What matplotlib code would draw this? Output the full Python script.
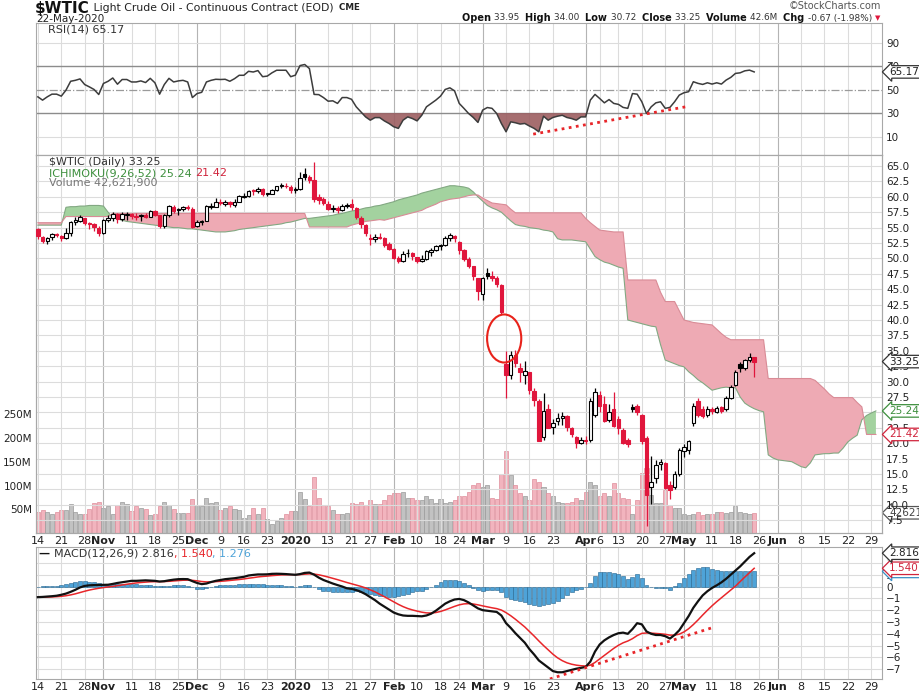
import numpy as np
import pandas as pd
import matplotlib
matplotlib.use("Agg")
import matplotlib.pyplot as plt
from matplotlib.patches import Ellipse

# daily bars, 14-Oct-2019 .. 22-May-2020
opens = [54.70, 53.50, 52.80, 53.40, 53.90, 53.60, 53.30, 54.10, 55.90, 56.10,
         56.50, 55.70, 55.60, 55.00, 54.20, 56.20, 56.50, 57.20, 56.40, 57.10,
         57.20, 56.80, 56.90, 57.10, 56.80, 57.70, 57.00, 55.30, 57.10, 58.40,
         57.80, 58.00, 58.40, 58.10, 55.30, 55.90, 56.10, 58.40, 58.40, 59.20,
         58.90, 59.20, 58.70, 59.20, 60.00, 60.20, 60.90, 60.90, 61.20, 60.50,
         60.50, 61.10, 61.70, 61.70, 61.60, 61.10, 61.20, 63.70, 63.20, 62.80,
         59.90, 59.60, 58.90, 58.10, 58.20, 57.80, 58.60, 58.90, 58.20, 56.60,
         55.50, 53.30, 53.20, 53.50, 53.30, 52.30, 51.50, 50.00, 49.60, 50.80,
         50.90, 50.20, 49.60, 49.90, 51.10, 51.40, 52.10, 52.10, 53.30, 53.70,
         52.60, 51.40, 49.90, 48.70, 46.80, 44.30, 47.60, 47.10, 46.80, 45.70,
         32.90, 31.00, 34.40, 32.20, 31.00, 31.50, 28.50, 26.90, 21.00, 25.50,
         22.60, 23.60, 24.10, 24.40, 22.40, 21.00, 20.10, 20.50, 20.60, 24.50,
         27.80, 26.40, 23.80, 25.60, 23.90, 22.20, 20.50, 25.90, 26.10, 24.60,
         20.80, 12.90, 14.40, 16.70, 16.80, 13.20, 12.90, 15.00, 18.70, 18.90,
         23.30, 26.80, 25.60, 24.60, 25.50, 25.10, 25.80, 25.50, 27.40, 29.50,
         32.80, 32.20, 33.50, 33.95]
highs = [54.95, 53.70, 53.45, 54.20, 54.20, 53.80, 54.90, 56.00, 56.70, 57.00,
         56.60, 55.90, 55.80, 55.30, 56.40, 57.00, 57.50, 57.30, 57.60, 57.50,
         57.40, 57.30, 57.20, 57.40, 57.90, 57.90, 57.10, 57.20, 58.70, 58.60,
         58.20, 58.50, 58.70, 58.30, 56.30, 56.30, 58.70, 59.00, 59.80, 59.60,
         59.50, 59.40, 59.60, 60.30, 60.60, 61.10, 61.20, 61.60, 61.40, 60.70,
         61.20, 61.80, 62.30, 62.30, 61.90, 61.60, 64.10, 64.70, 63.50, 65.65,
         60.50, 59.90, 59.30, 58.70, 58.50, 58.80, 59.00, 59.70, 58.30, 56.90,
         55.60, 53.90, 54.00, 54.10, 53.40, 52.70, 51.70, 50.40, 51.20, 51.50,
         51.00, 50.30, 50.60, 51.30, 51.70, 52.20, 52.40, 53.60, 54.20, 53.80,
         52.80, 51.60, 50.30, 48.80, 46.90, 47.00, 48.40, 47.90, 47.10, 45.90,
         34.90, 34.90, 35.10, 33.00, 33.40, 31.60, 29.00, 27.20, 28.10, 26.30,
         23.90, 24.90, 25.00, 24.60, 22.60, 21.20, 21.00, 21.20, 27.40, 29.00,
         28.40, 27.70, 26.40, 28.30, 24.40, 22.50, 20.80, 26.30, 26.40, 24.80,
         21.20, 17.90, 17.20, 17.50, 17.00, 13.80, 15.50, 19.20, 19.90, 20.60,
         26.50, 27.30, 26.00, 26.00, 25.80, 26.00, 26.10, 27.70, 29.40, 31.90,
         33.20, 33.60, 34.60, 34.00]
lows = [53.10, 52.45, 52.40, 52.95, 53.40, 52.80, 53.10, 53.60, 55.50, 55.90,
        55.40, 54.80, 54.50, 53.70, 53.90, 55.90, 56.00, 55.80, 56.10, 56.30,
        56.40, 56.30, 56.00, 56.50, 56.70, 56.90, 54.90, 55.00, 56.80, 57.40,
        57.10, 57.70, 57.90, 54.90, 55.10, 55.40, 56.00, 58.00, 58.30, 58.70,
        58.50, 58.30, 58.40, 59.10, 59.80, 60.00, 60.30, 60.60, 60.20, 60.20,
        60.40, 61.00, 61.40, 61.40, 60.60, 60.70, 61.10, 62.80, 62.30, 59.20,
        58.90, 58.70, 57.80, 57.60, 57.40, 57.70, 58.20, 57.90, 56.40, 54.90,
        53.70, 52.10, 52.70, 53.10, 51.80, 51.30, 49.90, 49.30, 49.40, 50.30,
        49.80, 49.30, 49.40, 49.70, 50.40, 51.20, 51.30, 52.00, 52.90, 52.70,
        50.70, 49.60, 48.40, 46.50, 43.30, 43.20, 46.60, 46.30, 45.40, 41.00,
        27.30, 30.50, 32.30, 30.00, 29.60, 28.00, 26.00, 20.30, 20.60, 22.40,
        21.50, 23.00, 22.90, 21.90, 21.00, 19.30, 19.80, 19.90, 20.20, 24.20,
        25.10, 23.40, 23.50, 22.60, 21.50, 19.90, 19.40, 25.00, 24.50, 19.90,
        6.50, 10.20, 13.60, 15.70, 12.50, 10.90, 12.50, 14.70, 17.80, 18.30,
        22.80, 24.30, 24.10, 24.30, 24.70, 24.90, 24.90, 25.20, 27.10, 29.30,
        31.50, 31.90, 33.20, 30.72]
closes = [53.59, 52.81, 53.36, 53.93, 53.78, 53.31, 54.16, 55.97, 56.23, 56.66,
          55.81, 55.54, 55.06, 54.18, 56.20, 56.54, 57.23, 56.35, 57.15, 57.24,
          56.86, 56.80, 57.12, 56.77, 57.72, 57.05, 55.21, 57.11, 58.58, 57.77,
          58.01, 58.41, 58.11, 55.17, 55.96, 56.10, 58.43, 58.43, 59.20, 59.02,
          59.24, 58.76, 59.18, 60.07, 60.21, 60.94, 60.93, 61.22, 60.44, 60.52,
          61.11, 61.68, 61.72, 61.68, 61.06, 61.18, 63.05, 63.27, 62.70, 59.61,
          59.56, 59.04, 58.08, 58.23, 57.81, 58.52, 58.54, 58.34, 56.74, 55.59,
          54.19, 53.14, 53.48, 53.33, 52.14, 51.56, 50.11, 49.61, 50.75, 50.95,
          50.32, 49.57, 49.94, 51.17, 51.42, 52.05, 52.05, 53.29, 53.78, 53.38,
          51.43, 49.90, 48.73, 47.09, 44.76, 46.75, 47.18, 46.78, 45.90, 41.28,
          31.13, 34.36, 32.98, 31.50, 31.73, 28.70, 26.95, 20.37, 25.22, 22.43,
          23.36, 24.01, 24.49, 22.60, 21.51, 20.09, 20.48, 20.31, 26.80, 28.34,
          26.08, 23.63, 25.09, 22.76, 22.41, 20.11, 19.87, 25.53, 25.03, 20.43,
          11.57, 13.78, 16.50, 16.94, 12.78, 12.34, 15.06, 18.84, 19.40, 20.39,
          26.00, 24.60, 24.40, 25.60, 25.20, 25.70, 25.30, 27.40, 29.10, 31.60,
          32.20, 33.49, 33.92, 33.25]
# volume in millions
volume_m = [45, 48, 44, 41, 45, 48, 48, 61, 45, 41,
            41, 51, 63, 65, 53, 56, 41, 59, 65, 61,
            47, 56, 53, 50, 37, 41, 56, 65, 58, 50,
            42, 42, 42, 71, 60, 56, 73, 63, 65, 49,
            52, 57, 51, 49, 32, 39, 53, 41, 53, 29,
            20, 25, 32, 41, 47, 47, 87, 71, 56, 119,
            73, 58, 56, 49, 41, 41, 43, 63, 61, 66,
            58, 70, 61, 61, 70, 80, 85, 85, 87, 73,
            73, 70, 70, 78, 71, 64, 71, 64, 66, 70,
            77, 77, 87, 101, 106, 98, 101, 73, 71, 124,
            173, 122, 101, 85, 77, 70, 113, 108, 98, 84,
            77, 66, 63, 63, 66, 73, 70, 87, 108, 101,
            77, 84, 77, 106, 84, 73, 71, 41, 70, 127,
            136, 80, 63, 63, 91, 59, 52, 52, 41, 38,
            41, 45, 38, 41, 41, 44, 45, 43, 45, 56,
            45, 43, 40, 42.62]
rsi14 = [43.9, 41.1, 43.9, 46.2, 46.2, 44.5, 49.6, 57.2, 58.0, 59.2,
         54.4, 52.4, 50.2, 45.9, 55.3, 57.2, 60.0, 54.7, 58.7, 58.7,
         56.6, 56.6, 57.5, 56.1, 59.7, 55.9, 46.2, 54.4, 59.7, 56.6,
         57.5, 58.0, 56.6, 43.3, 46.7, 47.8, 56.6, 58.0, 58.9, 58.7,
         58.9, 57.2, 59.4, 62.3, 62.3, 65.7, 65.1, 66.3, 61.1, 61.6,
         64.4, 66.6, 66.6, 66.6, 61.1, 62.4, 70.6, 71.5, 68.0, 46.0,
         45.8, 43.3, 40.2, 40.5, 38.3, 43.3, 43.3, 41.8, 35.4, 31.1,
         26.8, 24.0, 26.2, 26.2, 23.4, 21.2, 18.4, 17.0, 24.0, 26.8,
         25.4, 23.4, 28.2, 35.4, 38.3, 41.1, 44.5, 50.2, 51.6, 49.0,
         38.3, 34.1, 29.7, 26.3, 22.1, 32.6, 34.8, 34.1, 29.7, 21.2,
         14.1, 22.6, 21.8, 20.7, 21.2, 19.0, 17.0, 14.1, 27.4, 24.0,
         26.3, 27.4, 28.2, 26.3, 25.4, 24.0, 26.8, 26.8, 41.1, 46.0,
         42.5, 38.8, 41.6, 38.3, 37.5, 34.9, 34.1, 46.7, 46.2, 39.7,
         29.7, 35.4, 38.8, 39.7, 34.1, 34.9, 39.7, 45.4, 47.4, 48.3,
         56.8, 55.4, 54.5, 55.9, 54.8, 55.9, 54.8, 58.2, 60.5, 63.9,
         64.4, 66.1, 66.7, 65.17]
macd_line = [-0.90, -0.88, -0.85, -0.82, -0.78, -0.70, -0.60, -0.45, -0.28, -0.08,
             0.05, 0.10, 0.12, 0.13, 0.14, 0.15, 0.22, 0.30, 0.36, 0.42,
             0.48, 0.48, 0.50, 0.52, 0.50, 0.48, 0.42, 0.45, 0.52, 0.58,
             0.62, 0.63, 0.62, 0.45, 0.30, 0.20, 0.25, 0.38, 0.48, 0.55,
             0.62, 0.66, 0.70, 0.76, 0.82, 0.93, 0.98, 1.02, 1.02, 1.03,
             1.07, 1.08, 1.07, 1.05, 1.02, 0.99, 1.05, 1.15, 1.18, 1.00,
             0.75, 0.55, 0.40, 0.25, 0.12, 0.00, -0.15, -0.20, -0.30, -0.45,
             -0.65, -0.90, -1.15, -1.45, -1.70, -1.95, -2.20, -2.35, -2.45, -2.48,
             -2.48, -2.50, -2.52, -2.45, -2.30, -2.05, -1.75, -1.45, -1.25, -1.10,
             -1.05, -1.15, -1.35, -1.60, -1.85, -2.00, -2.05, -2.10, -2.15, -2.45,
             -3.10, -3.50, -3.95, -4.35, -4.75, -5.30, -5.75, -6.25, -6.55, -6.85,
             -7.15, -7.25, -7.25, -7.15, -7.05, -6.95, -6.88, -6.80, -6.35, -5.50,
             -4.90, -4.55, -4.30, -4.10, -3.95, -3.90, -4.00, -3.60, -3.10, -3.20,
             -3.80, -4.00, -4.10, -4.10, -4.20, -4.40, -4.10, -3.70, -3.10, -2.50,
             -1.80, -1.25, -0.75, -0.40, -0.12, 0.10, 0.35, 0.65, 1.00, 1.35,
             1.70, 2.10, 2.50, 2.816]
signal_line = [-0.90, -0.90, -0.89, -0.88, -0.86, -0.83, -0.78, -0.71, -0.62, -0.51,
               -0.40, -0.30, -0.22, -0.15, -0.09, -0.04, 0.01, 0.07, 0.13, 0.19,
               0.25, 0.30, 0.34, 0.37, 0.40, 0.41, 0.41, 0.42, 0.44, 0.47,
               0.50, 0.53, 0.54, 0.52, 0.48, 0.42, 0.39, 0.39, 0.41, 0.44,
               0.47, 0.51, 0.55, 0.59, 0.64, 0.70, 0.75, 0.81, 0.85, 0.88,
               0.92, 0.95, 0.98, 0.99, 1.00, 1.00, 1.01, 1.04, 1.07, 1.05,
               0.99, 0.90, 0.80, 0.69, 0.58, 0.46, 0.34, 0.23, 0.12, 0.01,
               -0.12, -0.28, -0.45, -0.65, -0.86, -1.08, -1.30, -1.51, -1.70, -1.86,
               -1.98, -2.08, -2.17, -2.23, -2.24, -2.20, -2.11, -1.98, -1.83, -1.68,
               -1.55, -1.47, -1.45, -1.48, -1.55, -1.64, -1.72, -1.80, -1.87, -1.99,
               -2.21, -2.47, -2.77, -3.09, -3.42, -3.80, -4.19, -4.60, -4.99, -5.36,
               -5.72, -6.03, -6.27, -6.45, -6.57, -6.65, -6.70, -6.72, -6.65, -6.42,
               -6.12, -5.81, -5.51, -5.23, -4.97, -4.76, -4.61, -4.41, -4.15, -3.96,
               -3.93, -3.94, -3.97, -4.00, -4.04, -4.11, -4.11, -4.03, -3.84, -3.57,
               -3.22, -2.83, -2.41, -2.01, -1.63, -1.28, -0.95, -0.63, -0.30, 0.03,
               0.42, 0.80, 1.17, 1.540]
# ichimoku cloud, shifted 26 sessions ahead (180 sessions)
span_a = [55.4, 55.4, 55.4, 55.4, 55.4, 55.4, 58.3, 58.4, 58.4, 58.5,
          58.5, 58.6, 58.6, 58.6, 58.5, 57.5, 56.6, 56.4, 56.2, 56.0,
          55.9, 55.8, 55.7, 55.6, 55.5, 55.4, 55.3, 55.2, 55.1, 55.0,
          55.0, 54.9, 54.8, 54.8, 54.7, 54.6, 54.5, 54.4, 54.3, 54.3,
          54.3, 54.4, 54.5, 54.7, 54.8, 54.9, 55.0, 55.1, 55.2, 55.3,
          55.4, 55.5, 55.6, 55.8, 55.9, 56.1, 56.3, 56.5, 56.5, 56.6,
          56.7, 56.8, 56.9, 57.0, 57.2, 57.3, 57.5, 57.7, 57.8, 58.0,
          58.2, 58.3, 58.5, 58.6, 58.8, 59.0, 59.2, 59.5, 59.7, 59.9,
          60.1, 60.3, 60.6, 60.8, 61.0, 61.2, 61.4, 61.6, 61.8, 61.8,
          61.7, 61.6, 61.4, 60.8, 60.0, 59.3, 58.6, 58.2, 57.9, 57.5,
          56.8, 56.1, 55.5, 55.3, 55.2, 55.0, 54.9, 54.8, 54.6, 54.5,
          54.3, 53.2, 53.0, 53.0, 53.0, 52.9, 52.8, 52.7, 51.5, 50.3,
          49.8, 49.4, 49.2, 48.9, 48.6, 48.4, 40.0, 39.8, 39.6, 39.4,
          39.2, 39.0, 38.9, 36.0, 33.5, 33.2, 32.9, 32.6, 32.4, 31.6,
          31.0, 30.3, 29.8, 29.2, 28.6, 28.8, 29.0, 29.1, 29.0, 29.0,
          27.5, 26.5, 26.0, 25.6, 25.3, 25.1, 18.1, 17.6, 17.3, 17.2,
          17.1, 17.0, 16.6, 16.2, 16.0, 16.8, 18.1, 18.2, 18.3, 18.3,
          18.4, 18.4, 19.2, 20.2, 20.8, 21.3, 23.8, 24.5, 24.9, 25.24]
span_b = [55.8, 55.8, 55.8, 55.8, 55.8, 55.8, 56.8, 56.8, 56.8, 56.8,
          56.8, 56.8, 56.8, 56.8, 56.8, 56.8, 57.3, 57.3, 57.3, 57.3,
          57.3, 57.3, 57.3, 57.3, 57.3, 57.3, 57.3, 57.3, 57.3, 57.3,
          57.3, 57.3, 57.3, 57.3, 57.3, 57.3, 57.3, 57.3, 57.3, 57.3,
          57.3, 57.3, 57.3, 57.3, 57.3, 57.3, 57.3, 57.3, 57.3, 57.3,
          57.3, 57.3, 57.3, 57.3, 57.3, 57.3, 57.3, 57.3, 55.1, 55.1,
          55.1, 55.1, 55.1, 55.1, 55.1, 55.1, 55.1, 55.4, 55.6, 55.8,
          56.0, 56.1, 56.2, 56.3, 56.2, 56.4, 56.6, 56.8, 57.0, 57.2,
          57.4, 57.6, 57.8, 58.2, 58.5, 58.8, 59.2, 59.4, 59.6, 59.7,
          59.8, 60.0, 60.2, 60.3, 60.3, 59.8, 59.4, 59.0, 58.9, 58.8,
          58.7, 58.0, 57.4, 57.4, 57.4, 57.4, 57.4, 57.4, 57.4, 57.4,
          57.4, 57.4, 57.4, 57.4, 57.4, 57.4, 57.4, 56.5, 55.8, 55.2,
          54.6, 54.5, 54.4, 54.3, 54.3, 54.3, 46.5, 46.5, 46.5, 46.5,
          46.5, 46.5, 46.5, 44.5, 43.0, 43.0, 43.0, 41.5, 40.0, 39.8,
          39.6, 39.5, 39.4, 39.3, 39.2, 38.5, 37.8, 37.2, 36.8, 36.8,
          36.8, 36.8, 36.8, 36.8, 36.8, 36.8, 30.5, 30.5, 30.5, 30.5,
          30.5, 30.5, 30.5, 30.5, 30.5, 30.5, 30.2, 29.5, 28.8, 28.0,
          27.4, 27.4, 27.4, 27.4, 27.4, 26.6, 25.9, 21.42, 21.42, 21.42]

holidays = ["2019-11-28", "2019-12-25", "2020-01-01", "2020-01-20",
            "2020-02-17", "2020-04-10", "2020-05-25", "2020-07-03"]
tick_dates = ["2019-10-14", "2019-10-21", "2019-10-28", "2019-11-01", "2019-11-11",
              "2019-11-18", "2019-11-25", "2019-12-02", "2019-12-09", "2019-12-16",
              "2019-12-23", "2020-01-02", "2020-01-13", "2020-01-21", "2020-01-27",
              "2020-02-03", "2020-02-10", "2020-02-18", "2020-02-24", "2020-03-02",
              "2020-03-09", "2020-03-16", "2020-03-23", "2020-04-01", "2020-04-06",
              "2020-04-13", "2020-04-20", "2020-04-27", "2020-05-01", "2020-05-11",
              "2020-05-18", "2020-05-26", "2020-06-01", "2020-06-08", "2020-06-15",
              "2020-06-22", "2020-06-29"]
tick_text = ["14", "21", "28", "Nov", "11", "18", "25", "Dec", "9", "16", "23",
             "2020", "13", "21", "27", "Feb", "10", "18", "24", "Mar", "9", "16",
             "23", "Apr", "6", "13", "20", "27", "May", "11", "18", "26", "Jun",
             "8", "15", "22", "29"]
month_text = ["Nov", "Dec", "2020", "Feb", "Mar", "Apr", "May", "Jun"]

# hand-drawn annotations (session number, value)
rsi_trend_x, rsi_trend_y = [105.8, 139.2], [12.1, 36.0]
macd_trend_x, macd_trend_y = [107.9, 143.9], [-8.0, -3.5]

RED = "#e0163c"
GRID = "#dcdcdc"
MGRID = "#b4b4b4"

sessions = pd.bdate_range("2019-10-14", "2020-07-02", freq="C", holidays=holidays)
tick_pos = [sessions.get_loc(pd.Timestamp(d)) for d in tick_dates]
month_pos = [p for p, t in zip(tick_pos, tick_text) if t in month_text]

o, h, l, c = map(np.array, (opens, highs, lows, closes))
n = len(c)
x = np.arange(n)
prev = np.r_[o[0], c[:-1]]
up = c >= prev
col = np.where(up, "black", RED)
hollow = c > o

fig = plt.figure(figsize=(9.2, 6.91), dpi=100)
W, H = 920, 691


def rect(left, top, right, bottom):
    return [left / W, 1 - bottom / H, (right - left) / W, (bottom - top) / H]


ax_rsi = fig.add_axes(rect(36, 23, 882, 155))
ax_vol = fig.add_axes(rect(36, 155, 882, 533))
ax = fig.add_axes(rect(36, 155, 882, 533), sharex=ax_vol)
ax.patch.set_visible(False)
ax_macd = fig.add_axes(rect(36, 547, 882, 679))

for a in (ax_rsi, ax_vol, ax, ax_macd):
    a.set_xlim(-0.4, 180.3)
    for s in a.spines.values():
        s.set_color("#a8a8a8")
        s.set_linewidth(0.8)
    a.tick_params(length=0, labelsize=7.5, colors="#222222")

for a in (ax_rsi, ax, ax_macd):
    for p in tick_pos:
        a.axvline(p, color=MGRID if p in month_pos else GRID, lw=0.8, zorder=0)
    a.yaxis.tick_right()
    a.tick_params(axis="y", pad=3)

# ---- RSI panel ----
ax_rsi.set_ylim(-5.7, 106.9)
ax_rsi.set_yticks([10, 30, 50, 70, 90])
for v in (10, 90):
    ax_rsi.axhline(v, color=GRID, lw=0.8, zorder=0)
ax_rsi.axhline(70, color="#8c8c8c", lw=1.0, zorder=1)
ax_rsi.axhline(30, color="#8c8c8c", lw=1.0, zorder=1)
ax_rsi.axhline(50, color="#9a9a9a", lw=0.9, ls="-.", zorder=1)
rsi = np.array(rsi14)
ax_rsi.fill_between(x, rsi, 30, where=rsi < 30, interpolate=True,
                    color="#9c5e61", alpha=0.9, lw=0, zorder=2)
ax_rsi.plot(x, rsi, color="#3c3c3c", lw=1.1, zorder=3)
ax_rsi.plot(rsi_trend_x, rsi_trend_y, color="#e8262a", lw=2,
            ls=(0, (1, 1.6)), zorder=4)
ax_rsi.set_xticks(tick_pos)
ax_rsi.set_xticklabels([])

# ---- volume (underneath the price panel) ----
ax_vol.set_ylim(0, 797)
vol_col = np.where(up, "#c2c2c2", "#f2b4be")
vol_edge = np.where(up, "#9a9a9a", "#df8e9b")
ax_vol.bar(x, volume_m, width=0.86, color=vol_col, edgecolor=vol_edge, lw=0.5)
ax_vol.set_yticks([50, 100, 150, 200, 250])
ax_vol.set_yticklabels(["50M", "100M", "150M", "200M", "250M"])
ax_vol.tick_params(axis="y", pad=3, labelsize=7.5)
ax_vol.tick_params(axis="x", labelbottom=False)

# ---- price panel ----
ax.set_ylim(5.42, 66.79)
yt = np.arange(7.5, 65.1, 2.5)
ax.set_yticks(yt)
ax.set_yticklabels([f"{v:.1f}" for v in yt])
for v in yt:
    ax.axhline(v, color=GRID, lw=0.8, zorder=0)

sa, sb = np.array(span_a), np.array(span_b)
xc = np.arange(len(sa))
ax.fill_between(xc, sa, sb, where=sa >= sb, interpolate=True,
                color="#a3d29f", lw=0, zorder=1)
ax.fill_between(xc, sa, sb, where=sa < sb, interpolate=True,
                color="#eeaab4", lw=0, zorder=1)
ax.plot(xc, sa, color="#82a882", lw=0.8, zorder=2)
ax.plot(xc, sb, color="#d98b96", lw=0.8, zorder=2)

ax.vlines(x, l, h, colors=col, lw=0.9, zorder=3)
body_lo = np.minimum(o, c)
body_h = np.maximum(np.abs(c - o), 0.15)
ax.bar(x[hollow], body_h[hollow], bottom=body_lo[hollow], width=0.74,
       facecolor="white", edgecolor=col[hollow], lw=0.8, zorder=4)
ax.bar(x[~hollow], body_h[~hollow], bottom=body_lo[~hollow], width=0.74,
       facecolor=col[~hollow], edgecolor=col[~hollow], lw=0.8, zorder=4)

ax.add_patch(Ellipse((99.6, 37.0), 7.3, 7.8, fill=False, ec="#e8221a",
                     lw=1.5, zorder=6))

ax.set_xticks(tick_pos)
ax.set_xticklabels(tick_text)
ax.tick_params(axis="x", pad=2, labelsize=8)

# ---- MACD panel ----
ax_macd.set_ylim(-7.82, 3.34)
ax_macd.set_yticks(range(-7, 3))
for v in range(-7, 3):
    ax_macd.axhline(v, color=GRID, lw=0.8, zorder=0)
ml, sl = np.array(macd_line), np.array(signal_line)
hist = ml - sl
ax_macd.bar(x, hist, width=0.85, color="#4ea3d8", edgecolor="#23648f",
            lw=0.4, zorder=2)
ax_macd.plot(x, sl, color="#e8262a", lw=1.1, zorder=3)
ax_macd.plot(x, ml, color="#111111", lw=1.6, zorder=4)
ax_macd.plot(macd_trend_x, macd_trend_y, color="#e8262a", lw=2,
             ls=(0, (1, 1.6)), zorder=5)
ax_macd.set_xticks(tick_pos)
ax_macd.set_xticklabels(tick_text)
ax_macd.tick_params(axis="x", pad=2, labelsize=8)

for a in (ax, ax_macd):
    for t in a.get_xticklabels():
        if t.get_text() in month_text:
            t.set_fontweight("bold")


# value tags on the right edge
def tag(a, val, txt, ec, tc):
    a.annotate(txt, xy=(1, val), xycoords=("axes fraction", "data"),
               xytext=(5, 0), textcoords="offset points", va="center",
               ha="left", fontsize=7.5, color=tc, annotation_clip=False,
               bbox=dict(boxstyle="larrow,pad=0.12", fc="white", ec=ec, lw=0.9),
               zorder=10)


tag(ax_rsi, rsi[-1], f"{rsi[-1]:.2f}", "#333333", "#222222")
tag(ax, c[-1], f"{c[-1]:.2f}", "#333333", "#222222")
tag(ax, sa[-1], f"{sa[-1]:.2f}", "#3d8f3d", "#3d8f3d")
tag(ax, sb[-1], f"{sb[-1]:.2f}", "#d0243c", "#d0243c")
tag(ax_vol, volume_m[-1], "42621900", "#555555", "#444444")
tag(ax_macd, hist[-1], f"{hist[-1]:.3f}", "#3b8fc4", "#3b8fc4")
tag(ax_macd, sl[-1], f"{sl[-1]:.3f}", "#d0243c", "#d0243c")
tag(ax_macd, ml[-1], f"{ml[-1]:.3f}", "#333333", "#222222")

# ---- header and legends ----
renderer = fig.canvas.get_renderer()


def chain(px, py, parts, right=False):
    start = px
    texts = []
    for s, color, weight, size in parts:
        t = fig.text(px / W, 1 - py / H, s, color=color, fontweight=weight,
                     fontsize=size, va="center", ha="left")
        px += t.get_window_extent(renderer=renderer).width
        texts.append(t)
    if right:
        # shift the whole run so that it ends where it was asked to start
        width = px - start
        for t in texts:
            tx, ty = t.get_position()
            t.set_position((tx - width / W, ty))


chain(35, 8, [("$WTIC", "#111111", "bold", 11),
              (" Light Crude Oil - Continuous Contract (EOD)", "#222222", "normal", 7.8),
              ("  CME", "#222222", "bold", 6.3)])
chain(36, 19, [("22-May-2020", "#222222", "normal", 7.5)])
fig.text(881 / W, 1 - 6 / H, "\u00a9StockCharts.com", fontsize=7, color="#555555",
         ha="right", va="center")
chain(880, 18, [("Open ", "#111111", "bold", 7.0), ("33.95  ", "#333333", "normal", 6.4),
                ("High ", "#111111", "bold", 7.0), ("34.00  ", "#333333", "normal", 6.4),
                ("Low ", "#111111", "bold", 7.0), ("30.72  ", "#333333", "normal", 6.4),
                ("Close ", "#111111", "bold", 7.0), ("33.25  ", "#333333", "normal", 6.4),
                ("Volume ", "#111111", "bold", 7.0), ("42.6M  ", "#333333", "normal", 6.4),
                ("Chg ", "#111111", "bold", 7.0), ("-0.67 (-1.98%) ", "#333333", "normal", 6.4),
                ("\u25bc", RED, "normal", 5)], right=True)

chain(48, 30, [("RSI(14) 65.17", "#333333", "normal", 8)])
chain(49, 162, [("$WTIC (Daily) 33.25", "#333333", "normal", 8)])
chain(49, 173, [("ICHIMOKU(9,26,52) 25.24 ", "#3d8f3d", "normal", 8),
                ("21.42", "#d0243c", "normal", 8)])
chain(49, 183, [("Volume 42,621,900", "#777777", "normal", 8)])
chain(39, 554, [("\u2014 ", "#111111", "bold", 8),
                ("MACD(12,26,9) 2.816", "#333333", "normal", 8),
                (", 1.540", "#e8262a", "normal", 8),
                (", 1.276", "#4ea3d8", "normal", 8)])

fig.savefig("out.png", dpi=100)
